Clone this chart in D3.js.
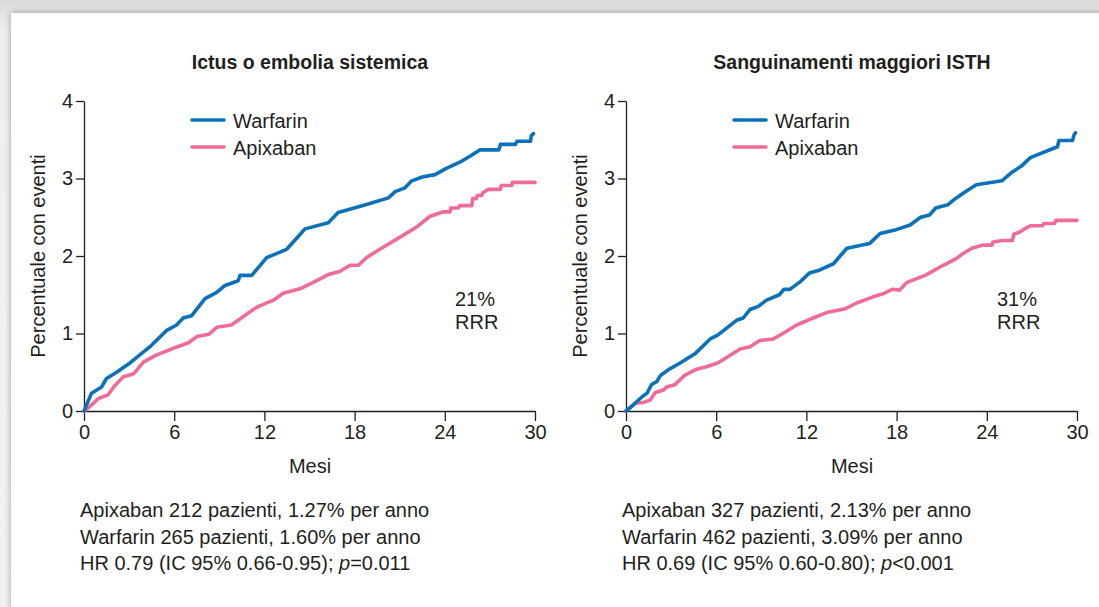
<!DOCTYPE html>
<html>
<head>
<meta charset="utf-8">
<script src="https://cdn.jsdelivr.net/npm/d3@7"></script>
<style>
  body { margin: 0; background: #e4e4e4; }
  text { font-family: "Liberation Sans", Arial, Helvetica, sans-serif; fill: #231f20; }
</style>
</head>
<body>
<div id="chart"></div>
<script>
// tick values
var xTicks = [0, 6, 12, 18, 24, 30];
var yTicks = [0, 1, 2, 3, 4];

// series: [mese, percentuale]
var ictusWarfarin = [[0,0],[0.5,0.23],[1.17,0.31],[1.5,0.42],[2.17,0.5],[3.06,0.62],[4.39,0.83],[5.5,1.04],[6.16,1.11],[6.6,1.2],[7.16,1.23],[8.05,1.45],[8.83,1.53],[9.38,1.62],[10.26,1.68],[10.38,1.75],[11.16,1.75],[12.15,1.98],[13.04,2.05],[13.5,2.09],[14.1,2.22],[14.7,2.35],[16.25,2.43],[16.9,2.56],[17.8,2.61],[18.9,2.67],[20.25,2.75],[20.7,2.83],[21.35,2.88],[21.8,2.97],[22.5,3.02],[23.35,3.05],[24.1,3.13],[25.0,3.21],[25.7,3.29],[26.35,3.37],[27.6,3.37],[27.7,3.44],[28.7,3.44],[28.8,3.48],[29.7,3.48],[29.75,3.55],[29.9,3.58]];
var ictusApixaban = [[0,0],[0.4,0.06],[0.95,0.16],[1.6,0.21],[2.06,0.33],[2.6,0.44],[3.3,0.48],[3.95,0.63],[4.8,0.72],[5.95,0.81],[6.95,0.88],[7.5,0.96],[8.3,0.99],[8.83,1.08],[9.8,1.11],[10.4,1.19],[10.9,1.26],[11.5,1.34],[12.6,1.43],[13.25,1.52],[14.4,1.58],[15.25,1.66],[16.25,1.76],[17.0,1.8],[17.7,1.88],[18.25,1.88],[18.8,1.98],[19.7,2.09],[21.0,2.24],[22.1,2.37],[23.0,2.51],[23.9,2.57],[24.35,2.57],[24.4,2.62],[24.9,2.62],[25.0,2.65],[25.8,2.65],[25.85,2.74],[26.1,2.74],[26.15,2.78],[26.45,2.78],[26.55,2.82],[26.9,2.86],[27.7,2.86],[27.75,2.91],[28.45,2.91],[28.5,2.95],[30,2.95]];
var isthWarfarin = [[0,0],[0.5,0.08],[1.05,0.18],[1.4,0.23],[1.7,0.34],[2.05,0.38],[2.3,0.46],[2.8,0.53],[3.6,0.62],[4.6,0.74],[5.6,0.93],[6.1,0.98],[7.35,1.17],[7.8,1.2],[8.25,1.31],[8.8,1.35],[9.35,1.43],[10.2,1.5],[10.5,1.57],[10.9,1.57],[11.6,1.67],[12.2,1.78],[12.9,1.82],[13.8,1.9],[14.2,1.99],[14.7,2.1],[16.2,2.16],[16.9,2.29],[17.97,2.34],[18.9,2.4],[19.6,2.5],[20.2,2.53],[20.6,2.62],[21.4,2.66],[21.9,2.74],[22.5,2.82],[23.3,2.92],[25.0,2.97],[25.6,3.07],[26.3,3.16],[26.9,3.27],[28.7,3.41],[28.8,3.49],[29.7,3.49],[29.8,3.56],[29.9,3.59]];
var isthApixaban = [[0,0],[0.6,0.1],[1.15,0.11],[1.6,0.14],[1.95,0.24],[2.5,0.27],[2.7,0.31],[3.25,0.34],[3.9,0.46],[4.7,0.54],[5.35,0.57],[6.1,0.62],[6.7,0.69],[7.6,0.8],[8.25,0.83],[8.9,0.91],[9.8,0.93],[10.6,1.02],[11.35,1.11],[12.45,1.2],[13.35,1.27],[14.6,1.32],[15.3,1.39],[16.4,1.47],[17.2,1.52],[17.7,1.57],[18.2,1.56],[18.7,1.66],[19.9,1.75],[21.1,1.88],[22.0,1.97],[22.4,2.03],[23.0,2.1],[23.7,2.14],[24.35,2.14],[24.4,2.18],[25.05,2.2],[25.7,2.2],[25.8,2.28],[26.2,2.31],[26.6,2.36],[26.9,2.39],[27.7,2.39],[27.8,2.42],[28.5,2.42],[28.6,2.46],[30,2.46]];

// texts
var seriesNames = ["Warfarin", "Apixaban"];
var titles = ["Ictus o embolia sistemica", "Sanguinamenti maggiori ISTH"];
var rrrLabels = ["21%", "31%"];
var notesIctus = ["Apixaban 212 pazienti, 1.27% per anno", "Warfarin 265 pazienti, 1.60% per anno", ["HR 0.79 (IC 95% 0.66-0.95); ", "p", "=0.011"]];
var notesIsth = ["Apixaban 327 pazienti, 2.13% per anno", "Warfarin 462 pazienti, 3.09% per anno", ["HR 0.69 (IC 95% 0.60-0.80); ", "p", "<0.001"]];

var W = 1099, H = 607;
var blue = "#0b72b9", pink = "#ef6b98";
var fs = "20px";

var svg = d3.select("#chart").append("svg")
    .attr("width", W)
    .attr("height", H);

// background + white sheet with shadow
var defs = svg.append("defs");
var grad = defs.append("linearGradient").attr("id", "bg").attr("x1", 0).attr("y1", 0).attr("x2", 0).attr("y2", 1);
grad.append("stop").attr("offset", "0").attr("stop-color", "#d9d9d9");
grad.append("stop").attr("offset", "0.05").attr("stop-color", "#efefef");
grad.append("stop").attr("offset", "1").attr("stop-color", "#f2f2f2");
var f = defs.append("filter").attr("id", "shadow").attr("x", "-5%").attr("y", "-5%").attr("width", "110%").attr("height", "110%");
f.append("feGaussianBlur").attr("in", "SourceAlpha").attr("stdDeviation", 3);
f.append("feOffset").attr("dx", 0).attr("dy", 0).attr("result", "b");
f.append("feComponentTransfer").append("feFuncA").attr("type", "linear").attr("slope", 0.35);
var fm = f.append("feMerge");
fm.append("feMergeNode");
fm.append("feMergeNode").attr("in", "SourceGraphic");

svg.append("rect").attr("width", W).attr("height", H).attr("fill", "url(#bg)");
svg.append("rect").attr("x", 11).attr("y", 13).attr("width", W).attr("height", H)
    .attr("fill", "#fff").attr("filter", "url(#shadow)");

function drawPanel(left, title, warfarin, apixaban, rrr, notes) {
  var x = d3.scaleLinear().domain([0, 30]).range([left, left + 451]);
  var y = d3.scaleLinear().domain([0, 4]).range([411, 101]);
  var g = svg.append("g");

  // axes
  var xa = g.append("g")
      .attr("transform", "translate(0,411)")
      .call(d3.axisBottom(x).tickValues(xTicks).tickFormat(d3.format("d"))
        .tickSize(10).tickPadding(4).tickSizeOuter(0));
  var ya = g.append("g")
      .attr("transform", "translate(" + left + ",0)")
      .call(d3.axisLeft(y).tickValues(yTicks).tickFormat(d3.format("d"))
        .tickSize(8).tickPadding(3).tickSizeOuter(0));
  [xa, ya].forEach(function(a) {
    a.attr("font-size", null).attr("font-family", null);
    a.select(".domain").attr("stroke", "#231f20").attr("stroke-width", 1.3);
    a.selectAll(".tick line").attr("stroke", "#231f20").attr("stroke-width", 1.3);
    a.selectAll(".tick text").style("font-size", fs).attr("fill", "#231f20");
  });

  // curves
  var line = d3.line()
      .x(function(d) { return x(d[0]); })
      .y(function(d) { return y(d[1]); });
  g.append("path").datum(apixaban)
      .attr("d", line).attr("fill", "none").attr("stroke", pink)
      .attr("stroke-width", 3.6).attr("stroke-linejoin", "round").attr("stroke-linecap", "round");
  g.append("path").datum(warfarin)
      .attr("d", line).attr("fill", "none").attr("stroke", blue)
      .attr("stroke-width", 3.6).attr("stroke-linejoin", "round").attr("stroke-linecap", "round");

  // title
  g.append("text").attr("x", left + 226).attr("y", 69).attr("text-anchor", "middle")
      .style("font-size", "19.5px").style("font-weight", "bold").text(title);

  // axis labels
  g.append("text").attr("x", left + 226).attr("y", 473).attr("text-anchor", "middle")
      .style("font-size", fs).text("Mesi");
  g.append("text").attr("transform", "translate(" + (left - 38) + ",256) rotate(-90)")
      .attr("text-anchor", "middle").attr("dy", "-0.05em").attr("x", 0)
      .style("font-size", fs).text("Percentuale con eventi")
      .attr("transform", "translate(" + (left - 38) + ",256) rotate(-90)");

  // legend
  var lx = left + 108;
  [blue, pink].forEach(function(c, i) {
    var ly = 120 + i * 27;
    g.append("line").attr("x1", lx).attr("x2", lx + 32).attr("y1", ly).attr("y2", ly)
        .attr("stroke", c).attr("stroke-width", 3.6).attr("stroke-linecap", "round");
    g.append("text").attr("x", lx + 41).attr("y", ly + 8).style("font-size", fs).text(seriesNames[i]);
  });

  // RRR
  g.append("text").attr("x", left + 371).attr("y", 306).style("font-size", fs).text(rrr);
  g.append("text").attr("x", left + 371).attr("y", 329).style("font-size", fs).text("RRR");

  // notes
  notes.forEach(function(n, i) {
    var t = g.append("text").attr("x", left - 4).attr("y", 517 + i * 26.5).style("font-size", fs);
    if (typeof n === "string") t.text(n);
    else {
      t.append("tspan").text(n[0]);
      t.append("tspan").style("font-style", "italic").text(n[1]);
      t.append("tspan").text(n[2]);
    }
  });
}

drawPanel(84, titles[0], ictusWarfarin, ictusApixaban, rrrLabels[0], notesIctus);
drawPanel(626, titles[1], isthWarfarin, isthApixaban, rrrLabels[1], notesIsth);
</script>
</body>
</html>
